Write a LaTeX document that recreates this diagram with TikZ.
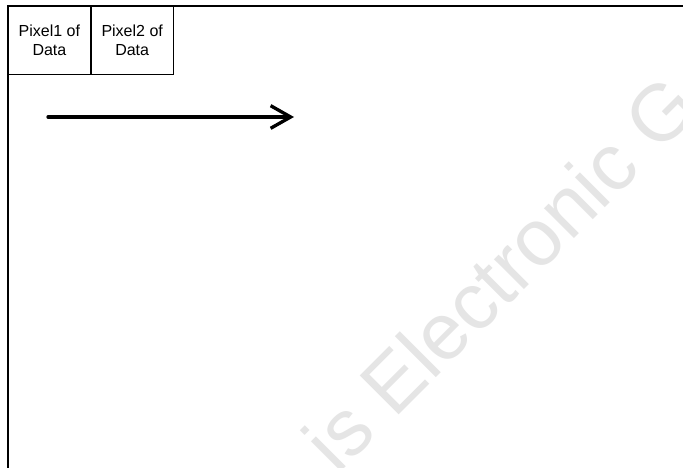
\documentclass[tikz,border=0pt]{standalone}
\usepackage{fontspec}
\setmainfont{Liberation Sans}
\usetikzlibrary{arrows.meta,positioning}
\begin{document}
\begin{tikzpicture}[x=0.75pt,y=0.75pt,
    pixbox/.style={draw=black, line width=0.6pt, minimum width=61.5pt, minimum height=51pt,
        inner sep=0pt, align=center, font=\fontsize{12}{14.25}\selectfont}]
    \useasboundingbox (0,0) rectangle (683,468);
    \fill[white] (0,0) rectangle (683,468);
    % watermark
    \begin{scope}
        \clip (0,0) rectangle (683,468);
        \node[text=black!10, rotate=45, font=\fontsize{60}{60}\selectfont] (mark) at (500,195) {is Electronic G};
    \end{scope}
    % frame
    \coordinate (fbottom) at (8,0);
    \coordinate (fcorner) at (8,462);
    \coordinate (fright) at (683,462);
    \draw[line width=1pt] (fbottom) -- (fcorner) -- (fright);
    % pixel boxes
    \node[pixbox, anchor=north west] (pix1) at (fcorner) {Pixel1 of\\Data};
    \node[pixbox, right=0pt of pix1] (pix2) {Pixel2 of\\Data};
    % scan direction
    \coordinate (start) at (48,351);
    \coordinate (end) at (294,351);
    \draw[line width=2.5pt, line cap=round, -{Straight Barb[length=15pt,width=17pt]}] (start) -- (end);
\end{tikzpicture}
\end{document}
